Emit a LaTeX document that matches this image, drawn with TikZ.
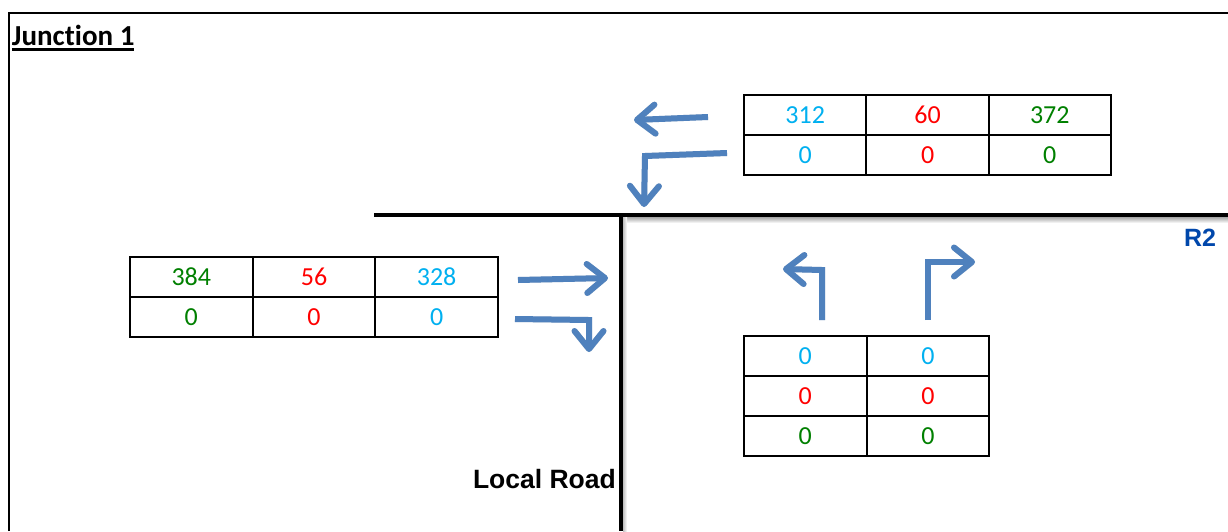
\documentclass[tikz,border=0pt]{standalone}
\usepackage{fontspec}
\setmainfont{Carlito}[Ligatures=NoCommon]
\newfontfamily\arialfont{Liberation Sans}
\usetikzlibrary{arrows.meta}

\definecolor{flowblue}{RGB}{79,129,189}
\definecolor{numcyan}{RGB}{0,176,240}
\definecolor{numred}{RGB}{255,0,0}
\definecolor{numgreen}{RGB}{0,128,0}
\definecolor{roadblue}{RGB}{0,71,171}

\tikzset{
  cell/.style={draw=black, line width=2pt, minimum width=122.5pt, minimum height=40pt,
    inner sep=0pt, outer sep=0pt, font=\fontsize{26}{29}\selectfont},
  cy/.style={cell, text=numcyan},
  rd/.style={cell, text=numred},
  gn/.style={cell, text=numgreen},
  flow/.style={draw=flowblue, line width=6pt, line cap=butt, line join=miter,
    -{Straight Barb[length=18pt, width=29pt, line width=6pt, round]}},
  flowshade/.style={flow, draw=black, opacity=0.12, shift={(1.5pt,-2.5pt)}},
  road/.style={draw=black, line width=3.5pt},
  frame/.style={draw=black, line width=2pt},
  lbl/.style={inner sep=0pt, outer sep=0pt},
}

\begin{document}
\begin{tikzpicture}[x=1pt, y=-1pt]
  \useasboundingbox (0,0) rectangle (1228,531);
  \fill[white] (0,0) rectangle (1228,531);

  % sheet frame (top and left edges)
  \coordinate (f0) at (9,531);
  \coordinate (f1) at (9,13);
  \coordinate (f2) at (1228,13);
  \draw[frame] (f0) -- (f1) -- (f2);

  % title with a heavy underline
  \node[lbl, anchor=base west, font=\fontsize{29}{32}\selectfont\bfseries] (title) at (12,45)
    {Junction 1};
  \draw[line width=2.4pt] ([yshift=-4.5pt]title.base west) -- ([yshift=-4.5pt]title.base east);

  % roads
  \coordinate (rA) at (374,215);
  \coordinate (rB) at (1228,215);
  \coordinate (rC) at (621,215);
  \coordinate (rD) at (621,531);
  \shade[top color=black!35, bottom color=white] (623,217) rectangle (1228,223);
  \shade[left color=black!25, right color=white] (623,217) rectangle (627,531);
  \draw[road] (rA) -- (rB);
  \draw[road] (rC) -- (rD);

  \node[lbl, anchor=base east, text=roadblue, font=\arialfont\fontsize{25}{27}\selectfont\bfseries]
    (r2) at (1216,246) {R2};
  \node[lbl, anchor=base west, font=\arialfont\fontsize{26.5}{29}\selectfont\bfseries]
    (local) at (473,488) {Local Road};

  % counts table, upper right
  \node[cy] (t11) at (805.2,115) {312};
  \node[rd] (t12) at (927.6,115) {60};
  \node[gn] (t13) at (1049.8,115) {372};
  \node[cy] (t21) at (805.2,155) {0};
  \node[rd] (t22) at (927.6,155) {0};
  \node[gn] (t23) at (1049.8,155) {0};

  % counts table, left
  \node[gn] (l11) at (191.3,277) {384};
  \node[rd] (l12) at (314,277) {56};
  \node[cy] (l13) at (436.6,277) {328};
  \node[gn] (l21) at (191.3,317) {0};
  \node[rd] (l22) at (314,317) {0};
  \node[cy] (l23) at (436.6,317) {0};

  % counts table, lower right
  \node[cy] (b11) at (805.3,356) {0};
  \node[cy] (b12) at (928,356) {0};
  \node[rd] (b21) at (805.3,396) {0};
  \node[rd] (b22) at (928,396) {0};
  \node[gn] (b31) at (805.3,436) {0};
  \node[gn] (b32) at (928,436) {0};

  % movement arrows
  \coordinate (a1s) at (708,117);
  \coordinate (a1e) at (634,120);
  \coordinate (a2s) at (727,153);
  \coordinate (a2k) at (645,156);
  \coordinate (a2e) at (644,207);
  \coordinate (a3s) at (518,280);
  \coordinate (a3e) at (608,278);
  \coordinate (a4s) at (515,319);
  \coordinate (a4k) at (589,320);
  \coordinate (a4e) at (589,352);
  \coordinate (a5s) at (822,320);
  \coordinate (a5k) at (822,270);
  \coordinate (a5e) at (783,269);
  \coordinate (a6s) at (928,320);
  \coordinate (a6k) at (928,262);
  \coordinate (a6e) at (975,262);

  \foreach \p in {{(a1s) -- (a1e)}, {(a2s) -- (a2k) -- (a2e)}, {(a3s) -- (a3e)},
                  {(a4s) -- (a4k) -- (a4e)}, {(a5s) -- (a5k) -- (a5e)}, {(a6s) -- (a6k) -- (a6e)}}
    \draw[flowshade] \p;
  \draw[flow] (a1s) -- (a1e);
  \draw[flow] (a2s) -- (a2k) -- (a2e);
  \draw[flow] (a3s) -- (a3e);
  \draw[flow] (a4s) -- (a4k) -- (a4e);
  \draw[flow] (a5s) -- (a5k) -- (a5e);
  \draw[flow] (a6s) -- (a6k) -- (a6e);
\end{tikzpicture}
\end{document}
